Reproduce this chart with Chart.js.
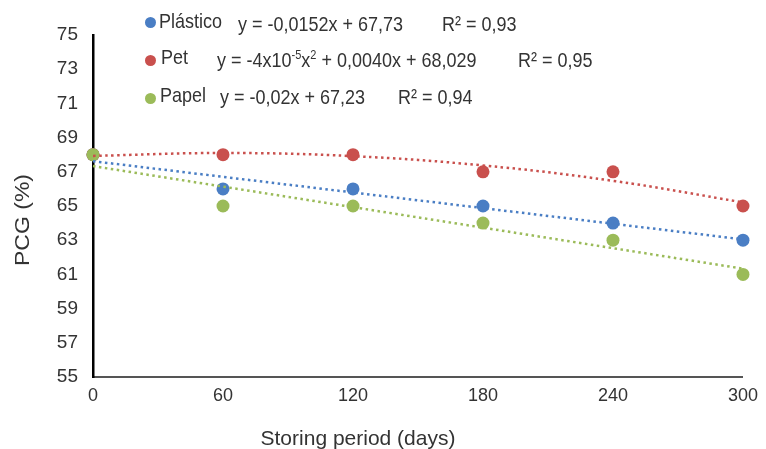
<!DOCTYPE html>
<html>
<head>
<meta charset="utf-8">
<script src="https://cdn.jsdelivr.net/npm/chart.js@4/dist/chart.umd.min.js"></script>
<style>
  html, body { margin: 0; padding: 0; background: #ffffff; }
  #wrap { position: relative; width: 766px; height: 449px; overflow: hidden;
          font-family: "Liberation Sans", Arial, sans-serif; color: #333; }
  #chart { position: absolute; left: 0; top: 0; }
  .lg { position: absolute; font-size: 18px; line-height: 19px; white-space: nowrap; color: #333;
        transform: scaleY(1.12); transform-origin: left center; }
  .dot { position: absolute; width: 11px; height: 11px; border-radius: 50%; }
  .lg sup { font-size: 11px; vertical-align: 0; position: relative; top: -7px; }
  #ytitle { position: absolute; font-size: 20px; line-height: 20px; white-space: nowrap; color: #333;
            left: 22px; top: 220px; transform: translate(-50%, -50%) rotate(-90deg) scaleX(1.15); }
  #xtitle { position: absolute; font-size: 21px; line-height: 21px; white-space: nowrap; color: #333;
            left: 358px; top: 437px; transform: translate(-50%, -50%); }
</style>
</head>
<body>
<div id="wrap">
  <canvas id="chart" width="766" height="449"></canvas>

  <div class="dot" style="left:145px; top:17px; background:#4a7ec4;"></div>
  <div class="lg" style="left:159px; top:12px;">Plástico</div>
  <div class="lg" style="left:238px; top:15px;">y = -0,0152x + 67,73</div>
  <div class="lg" style="left:442px; top:15px;">R² = 0,93</div>

  <div class="dot" style="left:145px; top:55px; background:#c9504d;"></div>
  <div class="lg" style="left:161px; top:48px;">Pet</div>
  <div class="lg" style="left:217px; top:51px;">y = -4x10<sup>-5</sup>x<sup>2</sup> + 0,0040x + 68,029</div>
  <div class="lg" style="left:518px; top:51px;">R² = 0,95</div>

  <div class="dot" style="left:145px; top:93px; background:#9bbb59;"></div>
  <div class="lg" style="left:160px; top:86px;">Papel</div>
  <div class="lg" style="left:220px; top:88px;">y = -0,02x + 67,23</div>
  <div class="lg" style="left:398px; top:88px;">R² = 0,94</div>

  <div id="ytitle">PCG (%)</div>
  <div id="xtitle">Storing period (days)</div>
</div>
<script>
// ---- data ----
const days     = [0, 60, 120, 180, 240, 300];
const plastico = [68, 66, 66, 65, 64, 63];
const pet      = [68, 68, 68, 67, 67, 65];
const papel    = [68, 65, 65, 64, 63, 61];
const seriesNames = ["Plástico", "Pet", "Papel"];
const trendDegrees = [1, 2, 1];
const xTickStep = 60;
const yMin = 55, yMax = 75, yTickStep = 2;

const colors = ["#4a7ec4", "#c9504d", "#9bbb59"];

// least-squares polynomial fit (as the spreadsheet trendline does)
function polyfit(xs, ys, deg) {
  const n = deg + 1;
  const A = [];
  for (let r = 0; r < n; r++) {
    const row = [];
    for (let c = 0; c < n; c++) row.push(xs.reduce((s, x) => s + Math.pow(x, r + c), 0));
    row.push(xs.reduce((s, x, i) => s + Math.pow(x, r) * ys[i], 0));
    A.push(row);
  }
  for (let i = 0; i < n; i++) {
    let p = i;
    for (let k = i + 1; k < n; k++) if (Math.abs(A[k][i]) > Math.abs(A[p][i])) p = k;
    [A[i], A[p]] = [A[p], A[i]];
    for (let k = i + 1; k < n; k++) {
      const f = A[k][i] / A[i][i];
      for (let j = i; j <= n; j++) A[k][j] -= f * A[i][j];
    }
  }
  const coef = new Array(n).fill(0);
  for (let i = n - 1; i >= 0; i--) {
    let s = A[i][n];
    for (let j = i + 1; j < n; j++) s -= A[i][j] * coef[j];
    coef[i] = s / A[i][i];
  }
  return coef;
}
function trendPoints(ys, deg) {
  const coef = polyfit(days, ys, deg);
  return days.map(x => ({ x, y: coef.reduce((s, c, k) => s + c * Math.pow(x, k), 0) }));
}

const allSeries = [plastico, pet, papel];
const datasets = [];
allSeries.forEach((ys, i) => {
  datasets.push({
    type: 'line',
    label: seriesNames[i] + ' trend',
    data: trendPoints(ys, trendDegrees[i]),
    borderColor: colors[i],
    borderWidth: 2.5,
    borderDash: [2.5, 3.5],
    borderCapStyle: 'butt',
    pointRadius: 0,
    fill: false,
    tension: trendDegrees[i] > 1 ? 0.4 : 0,
    clip: false,
    order: 1 + i
  });
});
allSeries.forEach((ys, i) => {
  datasets.push({
    type: 'scatter',
    label: seriesNames[i],
    data: days.map((x, k) => ({ x, y: ys[k] })),
    backgroundColor: colors[i],
    borderColor: colors[i],
    pointRadius: 6.5,
    pointBorderWidth: 0,
    clip: false,
    order: 6 - i
  });
});

new Chart(document.getElementById('chart'), {
  type: 'scatter',
  data: { datasets },
  options: {
    responsive: false,
    animation: false,
    events: [],
    layout: { padding: { left: 0, right: 18, top: 35, bottom: 0 } },
    plugins: { legend: { display: false }, tooltip: { enabled: false } },
    scales: {
      x: {
        type: 'linear',
        min: days[0], max: days[days.length - 1],
        grid: { display: false, drawTicks: false },
        border: { display: true, color: '#555555', width: 2 },
        ticks: { stepSize: xTickStep, autoSkip: false, maxRotation: 0, padding: 8,
                 color: '#333', font: { family: '"Liberation Sans", Arial, sans-serif', size: 18 } },
        afterFit: s => { s.height = 72; }
      },
      y: {
        type: 'linear',
        min: yMin, max: yMax,
        grid: { display: false, drawTicks: false },
        border: { display: true, color: '#000000', width: 2.5 },
        ticks: { stepSize: yTickStep, autoSkip: false, padding: 15,
                 color: '#333', font: { family: '"Liberation Sans", Arial, sans-serif', size: 19 } },
        afterFit: s => { s.width = 93; }
      }
    }
  }
});
</script>
</body>
</html>
